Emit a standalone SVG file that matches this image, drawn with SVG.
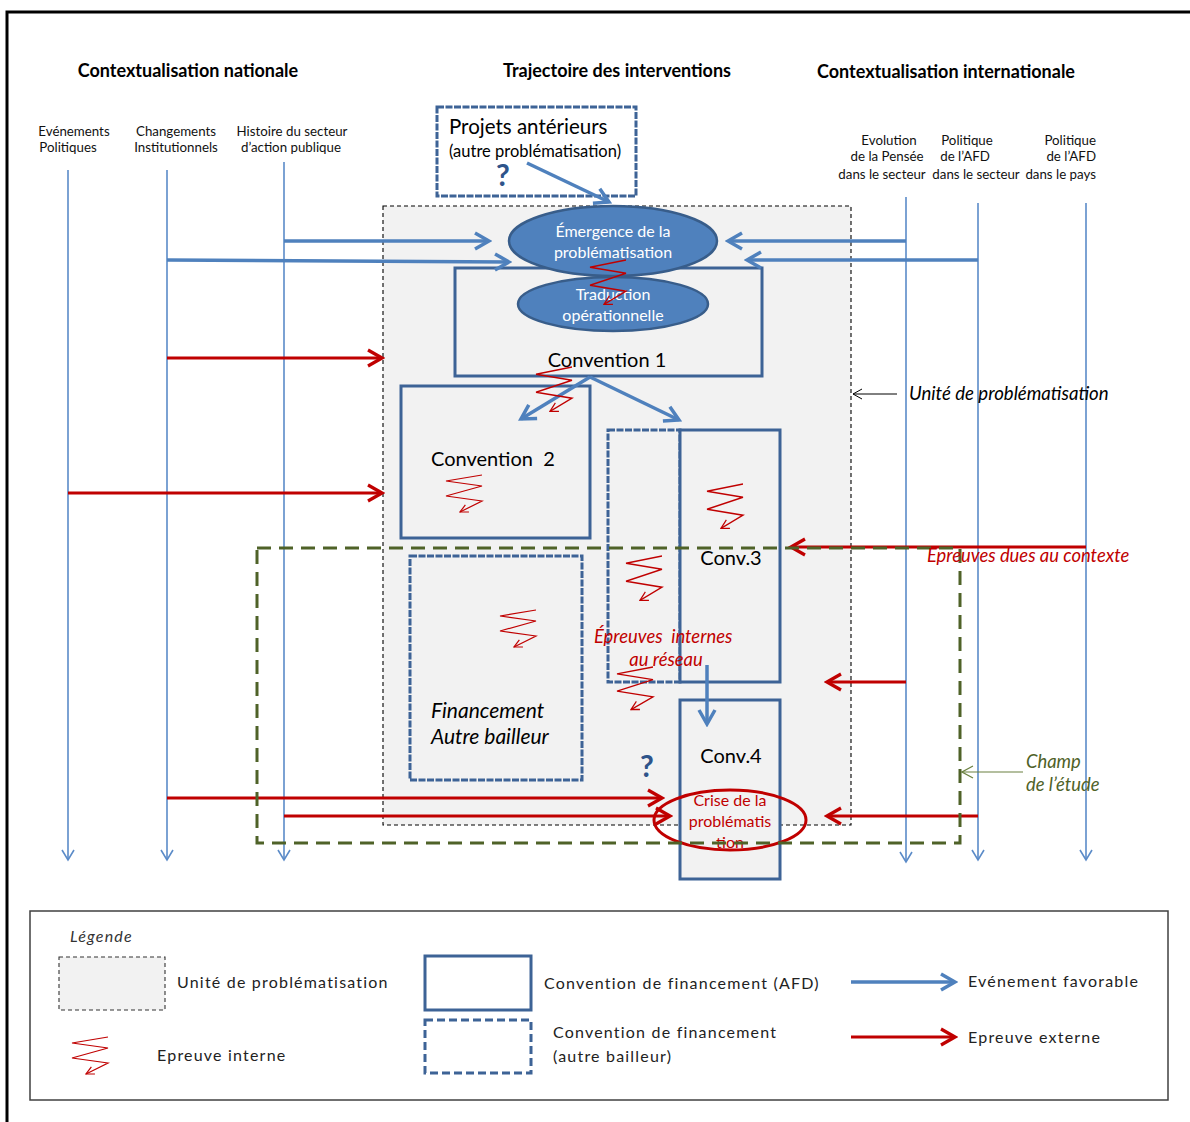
<svg xmlns="http://www.w3.org/2000/svg" xmlns:xlink="http://www.w3.org/1999/xlink" width="1190" height="1122" viewBox="0 0 1190 1122">
<style>
  text { font-family: Lato, "Liberation Sans", sans-serif; }
  .hdr { font-size: 18px; font-weight: bold; fill: #000; }
  .col { font-size: 13.3px; fill: #111; }
  .lane { stroke: #5b8bc8; stroke-width: 1.6; fill: none; }
  .box { stroke: #3d6396; stroke-width: 3; fill: #f2f2f2; }
  .dbox { stroke: #3d6396; stroke-width: 3; fill: #f2f2f2; stroke-dasharray: 7 1.5; }
  .fav { stroke: #4f81bd; stroke-width: 3.5; fill: none; }
  .ext { stroke: #c00000; stroke-width: 3; fill: none; }
  .zz { stroke: #c00000; stroke-width: 1.2; fill: none; }
  .lbl { font-size: 20px; fill: #000; }
  .ell { fill: #4f81bd; stroke: #385d8a; stroke-width: 2.5; }
  .ellt { font-size: 16px; fill: #fff; text-anchor: middle; }
  .red { fill: #c00000; font-style: italic; font-size: 18.4px; }
  .leg { font-size: 16px; fill: #222; letter-spacing: 1.2px; }
</style>
<defs>
  <marker id="mLane" markerUnits="userSpaceOnUse" viewBox="0 0 14 14" refX="12" refY="7" markerWidth="14" markerHeight="14" orient="auto">
    <path d="M2,1 L12,7 L2,13" fill="none" stroke="#5b8bc8" stroke-width="1.6"/>
  </marker>
  <marker id="mFav" markerUnits="userSpaceOnUse" viewBox="0 0 20 20" refX="17" refY="10" markerWidth="20" markerHeight="20" orient="auto">
    <path d="M3,2 L17,10 L3,18" fill="none" stroke="#4f81bd" stroke-width="3.5"/>
  </marker>
  <marker id="mExt" markerUnits="userSpaceOnUse" viewBox="0 0 20 20" refX="17" refY="10" markerWidth="20" markerHeight="20" orient="auto">
    <path d="M3,2 L17,10 L3,18" fill="none" stroke="#c00000" stroke-width="3.2"/>
  </marker>
  <marker id="mZz" markerUnits="userSpaceOnUse" viewBox="0 0 10 10" refX="9" refY="5" markerWidth="10" markerHeight="10" orient="auto">
    <path d="M1,1 L9,5 L1,9" fill="none" stroke="#c00000" stroke-width="1.2"/>
  </marker>
  <marker id="mBlk" markerUnits="userSpaceOnUse" viewBox="0 0 12 12" refX="11" refY="6" markerWidth="12" markerHeight="12" orient="auto">
    <path d="M2,1 L11,6 L2,11" fill="none" stroke="#000" stroke-width="1"/>
  </marker>
  <marker id="mGrn" markerUnits="userSpaceOnUse" viewBox="0 0 14 14" refX="13" refY="7" markerWidth="14" markerHeight="14" orient="auto">
    <path d="M2,1 L13,7 L2,13" fill="none" stroke="#6b8040" stroke-width="1.2"/>
  </marker>
  <g id="zz">
    <path class="zz" d="M36,0 L0,6 L36,11 L0,21 L36,26 L14,37" marker-end="url(#mZz)"/>
  </g>
</defs>

<rect width="1190" height="1122" fill="#fff"/>
<!-- page border -->
<path d="M7,1122 L7,12 L1190,12" fill="none" stroke="#000" stroke-width="3"/>

<!-- headers -->
<g id="headers">
  <text class="hdr" x="188" y="77" text-anchor="middle">Contextualisation nationale</text>
  <text class="hdr" x="617" y="77" text-anchor="middle">Trajectoire des interventions</text>
  <text class="hdr" x="946" y="78" text-anchor="middle">Contextualisation internationale</text>
  <text class="col" x="74" y="136" text-anchor="middle">Evénements</text>
  <text class="col" x="68" y="152" text-anchor="middle">Politiques</text>
  <text class="col" x="176" y="136" text-anchor="middle">Changements</text>
  <text class="col" x="176" y="152" text-anchor="middle">Institutionnels</text>
  <text class="col" x="292" y="136" text-anchor="middle">Histoire du secteur</text>
  <text class="col" x="291" y="152" text-anchor="middle">d’action publique</text>
  <text class="col" x="889" y="145" text-anchor="middle">Evolution</text>
  <text class="col" x="887" y="161" text-anchor="middle">de la Pensée</text>
  <text class="col" x="882" y="179" text-anchor="middle">dans le secteur</text>
  <text class="col" x="967" y="145" text-anchor="middle">Politique</text>
  <text class="col" x="965" y="161" text-anchor="middle">de l’AFD</text>
  <text class="col" x="976" y="179" text-anchor="middle">dans le secteur</text>
  <text class="col" x="1096" y="145" text-anchor="end">Politique</text>
  <text class="col" x="1096" y="161" text-anchor="end">de l’AFD</text>
  <text class="col" x="1096" y="179" text-anchor="end">dans le pays</text>
</g>

<!-- unite de problematisation -->
<g id="unite">
  <rect x="383" y="206" width="468" height="619" fill="#f2f2f2" stroke="#000" stroke-width="1.1" stroke-dasharray="4 3"/>
</g>

<!-- lanes -->
<g id="lanes">
  <line class="lane" x1="68" y1="170" x2="68" y2="860" marker-end="url(#mLane)"/>
  <line class="lane" x1="167" y1="170" x2="167" y2="860" marker-end="url(#mLane)"/>
  <line class="lane" x1="284" y1="162" x2="284" y2="860" marker-end="url(#mLane)"/>
  <line class="lane" x1="906" y1="197" x2="906" y2="862" marker-end="url(#mLane)"/>
  <line class="lane" x1="978" y1="203" x2="978" y2="860" marker-end="url(#mLane)"/>
  <line class="lane" x1="1086" y1="203" x2="1086" y2="860" marker-end="url(#mLane)"/>
</g>

<!-- nodes -->
<g id="projets">
  <rect x="437" y="107" width="199" height="89" fill="#fff" stroke="#3d6396" stroke-width="3" stroke-dasharray="7 1.5"/>
  <text x="449" y="134" font-size="20.5" fill="#000">Projets antérieurs</text>
  <text x="449" y="157" font-size="16.5" fill="#000">(autre problématisation)</text>
  <text x="503" y="186" font-size="30" font-weight="bold" fill="#2e548a" text-anchor="middle">?</text>
</g>

<g id="convention1">
  <rect class="box" x="455" y="268" width="307" height="108"/>
  <text class="lbl" x="607" y="367" text-anchor="middle">Convention 1</text>
</g>

<g id="emergence">
  <ellipse class="ell" cx="613" cy="241" rx="104" ry="35"/>
  <text class="ellt" x="613" y="237">Émergence de la</text>
  <text class="ellt" x="613" y="258">problématisation</text>
</g>

<g id="traduction">
  <ellipse class="ell" cx="613" cy="304" rx="95" ry="27"/>
  <text class="ellt" x="613" y="300">Traduction</text>
  <text class="ellt" x="613" y="321">opérationnelle</text>
</g>

<g id="convention2">
  <rect class="box" x="401" y="386" width="189" height="152"/>
  <text class="lbl" x="431" y="466" xml:space="preserve">Convention  2</text>
</g>

<g id="conv3">
  <rect class="dbox" x="608" y="430" width="72" height="252"/>
  <rect class="box" x="680" y="430" width="100" height="252"/>
  <text class="lbl" x="731" y="565" text-anchor="middle">Conv.3</text>
</g>

<g id="conv4">
  <rect class="box" x="680" y="700" width="100" height="179"/>
  <text class="lbl" x="731" y="763" text-anchor="middle">Conv.4</text>
</g>

<g id="financement">
  <rect class="dbox" x="410" y="556" width="172" height="224"/>
  <text x="431" y="718" font-size="21" font-style="italic" fill="#000">Financement</text>
  <text x="431" y="744" font-size="21" font-style="italic" fill="#000">Autre bailleur</text>
</g>

<g id="question2">
  <text x="647" y="777" font-size="30" font-weight="bold" fill="#2e548a" text-anchor="middle">?</text>
</g>

<!-- connectors -->
<g id="connectors">
  <line class="fav" x1="527" y1="163" x2="609" y2="202" marker-end="url(#mFav)"/>
  <line class="fav" x1="284" y1="241" x2="489" y2="241" marker-end="url(#mFav)"/>
  <line class="fav" x1="167" y1="260" x2="509" y2="262" marker-end="url(#mFav)"/>
  <line class="fav" x1="906" y1="241" x2="728" y2="241" marker-end="url(#mFav)"/>
  <line class="fav" x1="978" y1="260" x2="747" y2="260" marker-end="url(#mFav)"/>
  <line class="fav" x1="590" y1="377" x2="521" y2="419" marker-end="url(#mFav)"/>
  <line class="fav" x1="590" y1="377" x2="679" y2="420" marker-end="url(#mFav)"/>
  <line class="fav" x1="707" y1="665" x2="707" y2="724" stroke-width="3" marker-end="url(#mFav)"/>

  <line class="ext" x1="167" y1="358" x2="382" y2="358" marker-end="url(#mExt)"/>
  <line class="ext" x1="68" y1="493" x2="382" y2="493" marker-end="url(#mExt)"/>
  <line class="ext" x1="1086" y1="547" x2="791" y2="547" marker-end="url(#mExt)"/>
  <line class="ext" x1="906" y1="682" x2="827" y2="682" marker-end="url(#mExt)"/>
  <line class="ext" x1="167" y1="798" x2="662" y2="798" marker-end="url(#mExt)"/>
  <line class="ext" x1="284" y1="816" x2="670" y2="816" marker-end="url(#mExt)"/>
  <line class="ext" x1="978" y1="816" x2="827" y2="816" marker-end="url(#mExt)"/>

  <line x1="897" y1="394" x2="853" y2="394" stroke="#000" stroke-width="1" marker-end="url(#mBlk)"/>
  <line x1="1023" y1="772" x2="962" y2="772" stroke="#6b8040" stroke-width="1.2" marker-end="url(#mGrn)"/>
</g>

<!-- crise -->
<g id="crise">
  <ellipse cx="730" cy="820" rx="76" ry="30" fill="none" stroke="#c00000" stroke-width="3"/>
  <text x="730" y="806" font-size="16" fill="#c00000" text-anchor="middle">Crise de la</text>
  <text x="730" y="827" font-size="16" fill="#c00000" text-anchor="middle">problématis</text>
  <text x="730" y="848" font-size="16" fill="#c00000" text-anchor="middle">tion</text>
</g>

<!-- champ de l'etude -->
<g id="champ">
  <rect x="257" y="548" width="703" height="295" fill="none" stroke="#4f6228" stroke-width="3" stroke-dasharray="14 8"/>
</g>

<!-- internal trials (zigzags) -->
<g id="epreuves-internes">
  <use xlink:href="#zz" href="#zz" transform="translate(590,260) scale(1,1.2)"/>
  <use xlink:href="#zz" href="#zz" transform="translate(536,367) scale(1,1.2)"/>
  <use xlink:href="#zz" href="#zz" transform="translate(446,475)"/>
  <use xlink:href="#zz" href="#zz" transform="translate(707,484) scale(1,1.2)"/>
  <use xlink:href="#zz" href="#zz" transform="translate(626,556) scale(1,1.2)"/>
  <use xlink:href="#zz" href="#zz" transform="translate(617,667) scale(1,1.15)"/>
  <use xlink:href="#zz" href="#zz" transform="translate(500,610)"/>
</g>

<!-- labels -->
<g id="labels">
  <text class="red" x="927" y="562">Epreuves dues au contexte</text>
  <text class="red" x="594" y="643" xml:space="preserve">Épreuves  internes</text>
  <text class="red" x="666" y="666" text-anchor="middle">au réseau</text>
  <text x="909" y="400" font-size="18.6" font-style="italic" fill="#000">Unité de problématisation</text>
  <text x="1026" y="768" font-size="18.4" font-style="italic" fill="#4f6228">Champ</text>
  <text x="1026" y="791" font-size="18.4" font-style="italic" fill="#4f6228">de l’étude</text>
</g>

<!-- legend -->
<g id="legende">
  <rect x="30" y="911" width="1138" height="189" fill="#fff" stroke="#404040" stroke-width="1.5"/>
  <text x="70" y="942" font-size="16" font-style="italic" fill="#333" letter-spacing="1.2">Légende</text>
  <rect x="59" y="957" width="106" height="53" fill="#f2f2f2" stroke="#333" stroke-width="1.1" stroke-dasharray="4 3"/>
  <text class="leg" x="177" y="988">Unité de problématisation</text>
  <use xlink:href="#zz" href="#zz" transform="translate(72,1037)"/>
  <text class="leg" x="157" y="1061">Epreuve interne</text>
  <rect x="425" y="956" width="106" height="54" fill="#fff" stroke="#3d6396" stroke-width="3"/>
  <text class="leg" x="544" y="989">Convention de financement (AFD)</text>
  <rect x="425" y="1020" width="106" height="53" fill="#fff" stroke="#3d6396" stroke-width="3" stroke-dasharray="8 4"/>
  <text class="leg" x="553" y="1038">Convention de financement</text>
  <text class="leg" x="553" y="1062">(autre bailleur)</text>
  <line class="fav" x1="851" y1="982" x2="955" y2="982" stroke-width="3" marker-end="url(#mFav)"/>
  <text class="leg" x="968" y="987">Evénement favorable</text>
  <line class="ext" x1="851" y1="1037" x2="955" y2="1037" marker-end="url(#mExt)"/>
  <text class="leg" x="968" y="1043">Epreuve externe</text>
</g>
</svg>
